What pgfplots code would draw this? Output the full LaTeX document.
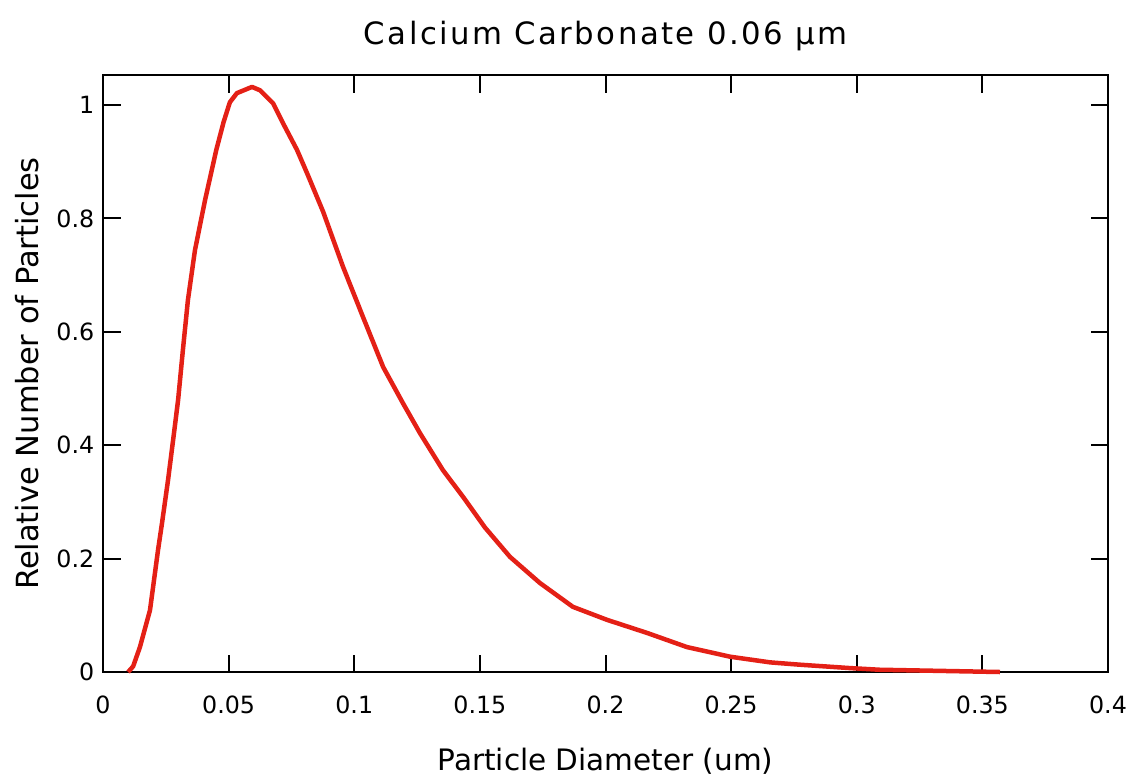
\documentclass[border=0pt]{standalone}
\usepackage{pgfplots}
\pgfplotsset{compat=1.18}
\usepackage{fontspec}
\setmainfont{DejaVu Sans}
\newfontfamily\titlefont[LetterSpace=8]{DejaVu Sans}
\definecolor{curvered}{RGB}{228,32,22}

\begin{document}
\begin{tikzpicture}
\begin{axis}[
  scale only axis,
  width=402pt, height=238.8pt,
  xmin=0, xmax=0.4, ymin=0, ymax=1.053,
  xtick={0,0.05,...,0.4},
  xticklabels={0,0.05,0.1,0.15,0.2,0.25,0.3,0.35,0.4},
  ytick={0,0.2,0.4,0.6,0.8,1},
  yticklabels={0,0.2,0.4,0.6,0.8,1},
  tick align=inside,
  major tick length=7pt,
  axis line style={line width=0.8pt},
  every tick/.style={black, line width=0.8pt},
  tick label style={font=\fontsize{9.5}{11}\selectfont},
  xticklabel style={yshift=-6pt},
  title={Calcium Carbonate 0.06 μm},
  title style={font=\titlefont\fontsize{12.3}{14}\selectfont, yshift=0pt},
  xlabel={Particle Diameter (um)},
  xlabel style={font=\fontsize{11.8}{13}\selectfont, yshift=-7pt},
  ylabel={Relative Number of Particles},
  ylabel style={font=\fontsize{12.2}{13}\selectfont, yshift=0pt},
  clip=false,
]
% measured size distribution
\addplot[curvered, line width=1.8pt, line join=round] coordinates {
  (0.0100,0.000) (0.0120,0.010) (0.0147,0.044) (0.0187,0.109)
  (0.0219,0.215) (0.0235,0.263) (0.0259,0.339) (0.0279,0.409)
  (0.0299,0.480) (0.0318,0.568) (0.0338,0.656) (0.0366,0.744)
  (0.0406,0.832) (0.0451,0.921) (0.0480,0.970) (0.0505,1.005)
  (0.0533,1.021) (0.0593,1.032) (0.0625,1.026) (0.0677,1.003)
  (0.0720,0.965) (0.0772,0.921) (0.0812,0.880) (0.0876,0.812)
  (0.0955,0.715) (0.1035,0.626) (0.1115,0.538) (0.1194,0.474)
  (0.1262,0.421) (0.1353,0.356) (0.1433,0.309) (0.1520,0.255)
  (0.1620,0.203) (0.1739,0.157) (0.1870,0.115) (0.2006,0.092)
  (0.2165,0.069) (0.2324,0.044) (0.2496,0.027) (0.2655,0.017)
  (0.2770,0.013) (0.2970,0.007) (0.3090,0.004) (0.3330,0.002)
  (0.3570,0.000)
};
\end{axis}
\pgfresetboundingbox
\path (current axis.south west) ++(-41.2pt,-42pt) coordinate (bbsw);
\path (current axis.north east) ++(10.8pt,30pt) coordinate (bbne);
\useasboundingbox (bbsw) rectangle (bbne);
\end{tikzpicture}
\end{document}
